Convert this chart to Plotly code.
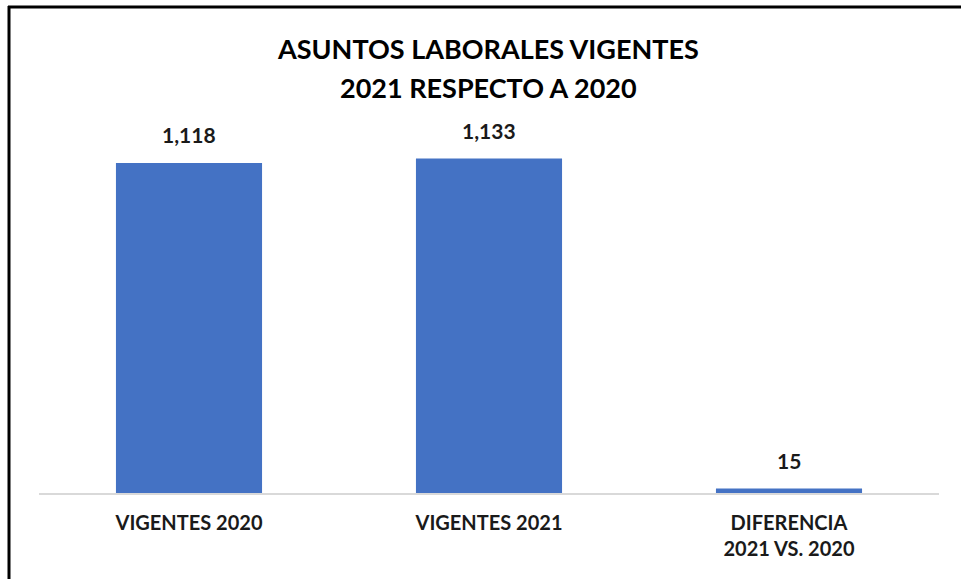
import plotly.graph_objects as go

categories = ["VIGENTES 2020", "VIGENTES 2021", "DIFERENCIA<br>2021 VS. 2020"]
values = [1118, 1133, 15]
value_labels = ["1,118", "1,133", "15"]
title_lines = ["ASUNTOS LABORALES VIGENTES", "2021 RESPECTO A 2020"]

FONT = "Lato"
W, H = 961, 579
L, R, T, B = 39, 22, 110, 86
ph = H - T - B

fig = go.Figure()
fig.add_trace(go.Bar(
    x=categories, y=values,
    marker=dict(color="#4472C4", line=dict(width=0)),
    width=0.487,
    hoverinfo="skip",
))

for c, v, t in zip(categories, values, value_labels):
    fig.add_annotation(x=c, y=v, text="<b>%s</b>" % t, showarrow=False,
                       yanchor="bottom", yshift=14,
                       font=dict(family=FONT, size=21, color="#1a1a1a"))

def py(p):
    return (H - B - p) / ph

def px(p):
    return (p - L) / (W - L - R)

title_y = [49, 87.5]
for line, yy in zip(title_lines, title_y):
    fig.add_annotation(xref="paper", yref="paper", x=px(488), y=py(yy),
                       text="<b>%s</b>" % line, showarrow=False,
                       xanchor="center", yanchor="middle",
                       font=dict(family=FONT, size=27, color="#000000"))

# frame (top and left lines)
fig.add_shape(type="line", xref="paper", yref="paper",
              x0=px(8), x1=px(961), y0=py(7), y1=py(7),
              line=dict(color="#000000", width=3))
fig.add_shape(type="line", xref="paper", yref="paper",
              x0=px(9), x1=px(9), y0=py(6), y1=py(579),
              line=dict(color="#000000", width=3))

fig.update_layout(
    width=W, height=H,
    margin=dict(l=L, r=R, t=T, b=B),
    paper_bgcolor="white", plot_bgcolor="white",
    showlegend=False,
    bargap=0.513,
    xaxis=dict(showline=True, linecolor="#D9D9D9", linewidth=2,
               ticks="", showgrid=False, zeroline=False,
               tickfont=dict(family=FONT, size=20, color="#1a1a1a", weight="bold"),
               ticklabelstandoff=11, fixedrange=True),
    yaxis=dict(range=[0, 1297.5], visible=False, showgrid=False,
               zeroline=False, fixedrange=True),
)

fig.write_html("out.html", config={"displayModeBar": False},
               post_script="document.body.style.margin='0';document.body.style.overflow='hidden';")
